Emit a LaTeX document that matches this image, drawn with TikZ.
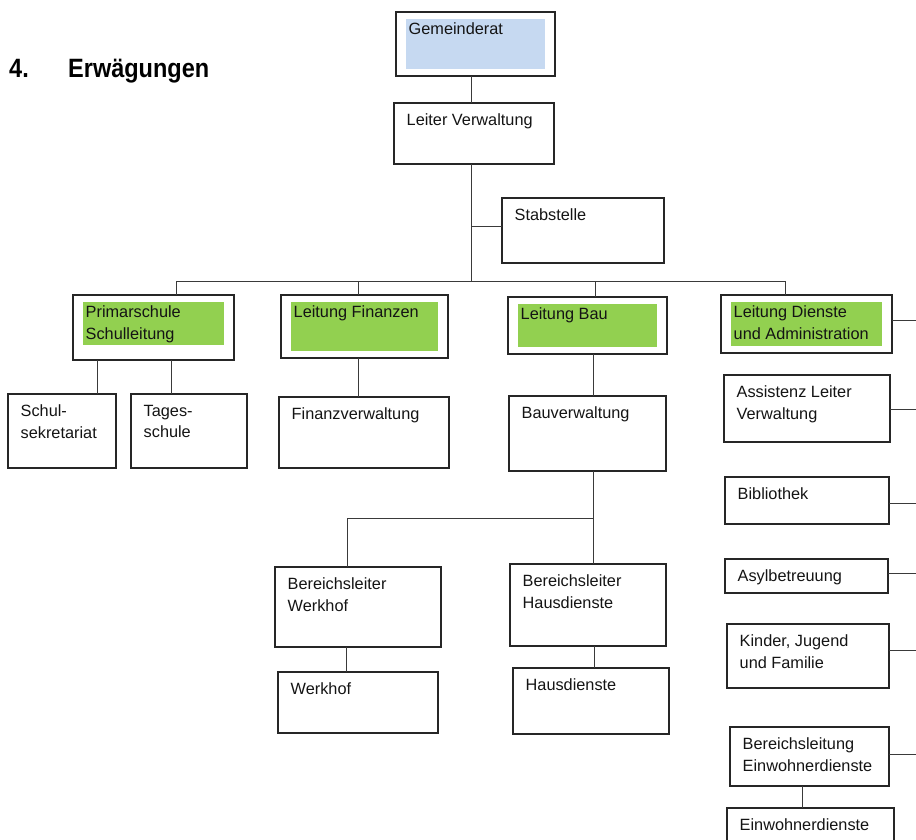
\documentclass[tikz,border=0pt]{standalone}
\usepackage{fontspec}
\usepackage{graphicx}
\usepackage{tikz}
\usetikzlibrary{calc}
\newfontfamily\boxfont{Liberation Sans}
\definecolor{hlgreen}{HTML}{92D050}
\definecolor{hlblue}{HTML}{C6D9F1}
\definecolor{boxline}{HTML}{262626}
\definecolor{wirecol}{HTML}{3A3A3A}
\tikzset{
    box/.style 2 args={draw=boxline, line width=1.2pt, anchor=north west, inner sep=0pt, outer sep=0pt, minimum width=#1pt, minimum height=#2pt},
    hl/.style 2 args={path picture={\fill[#1] ([shift={(10,7)}]path picture bounding box.north west) rectangle ([shift={(-10,-#2)}]path picture bounding box.south east);}},
    boxtext/.style={anchor=north west, inner sep=0pt, xshift=12.5pt, yshift=-10.8pt, align=left, text=black!92, font=\boxfont\fontsize{16.3}{21.5}\selectfont},
    headtext/.style={anchor=base west, inner sep=0pt, font=\boxfont\bfseries\fontsize{26.5}{30}\selectfont},
    wire/.style={draw=wirecol, line width=1pt}
}

\begin{document}
\begin{tikzpicture}[x=1pt, y=-1pt]
            \useasboundingbox (0,0) rectangle (916,839);
            \clip (0,0) rectangle (916,839);

            % heading
            \node[headtext] (num) at (9,77) {\scalebox{0.887}[1]{4.}};
            \node[headtext] (title) at (68,77) {\scalebox{0.887}[1]{Erwägungen}};

            % council, head of administration, staff
            \node[box={159}{64}, hl={hlblue}{7}, label={[boxtext]north west:Gemeinderat}] (gr) at (396,12) {};
            \node[box={160}{61}, label={[boxtext]north west:Leiter Verwaltung}] (lv) at (394,103) {};
            \node[box={162}{65}, label={[boxtext]north west:Stabstelle}] (stab) at (502,198) {};

            \coordinate (trunk) at (471,281);
            \coordinate (sj) at (471,226);
            \coordinate (busl) at (176,281);
            \coordinate (busr) at (785,281);
            \coordinate (rail) at (916,0);
            \draw[wire] (gr.south -| trunk) -- (lv.north -| trunk);
            \draw[wire] (lv.south -| trunk) -- (trunk);
            \draw[wire] (sj) -- (sj -| stab.west);
            \draw[wire] (busl) -- (busr);

            % departments
            \node[box={161}{65}, hl={hlgreen}{15}, label={[boxtext]north west:Primarschule\\Schulleitung}] (ps) at (73,295) {};
            \node[box={167}{63}, hl={hlgreen}{7}, label={[boxtext]north west:Leitung Finanzen}] (lf) at (281,295) {};
            \node[box={159}{57}, hl={hlgreen}{7}, label={[boxtext]north west:Leitung Bau}] (lb) at (508,297) {};
            \node[box={171}{58}, hl={hlgreen}{7}, label={[boxtext]north west:Leitung Dienste\\und Administration}] (ld) at (721,295) {};
            \draw[wire] (busl) -- (busl |- ps.north);
            \draw[wire] (358,281) -- (lf.north -| 358,281);
            \draw[wire] (595,281) -- (lb.north -| 595,281);
            \draw[wire] (busr) -- (busr |- ld.north);

            % school
            \node[box={108}{74}, label={[boxtext]north west:Schul-\\sekretariat}] (ss) at (8,394) {};
            \node[box={116}{74}, label={[boxtext]north west:Tages-\\schule}] (ts) at (131,394) {};
            \draw[wire] (ps.south -| 97,0) -- (ss.north -| 97,0);
            \draw[wire] (ps.south -| 171,0) -- (ts.north -| 171,0);

            % finance
            \node[box={170}{71}, label={[boxtext]north west:Finanzverwaltung}] (fv) at (279,397) {};
            \draw[wire] (lf.south -| 358.5,0) -- (fv.north -| 358.5,0);

            % building
            \node[box={157}{75}, label={[boxtext]north west:Bauverwaltung}] (bv) at (509,396) {};
            \node[box={166}{80}, label={[boxtext]north west:Bereichsleiter\\Werkhof}] (bw) at (275,567) {};
            \node[box={156}{82}, label={[boxtext]north west:Bereichsleiter\\Hausdienste}] (bh) at (510,564) {};
            \node[box={160}{61}, label={[boxtext]north west:Werkhof}] (wh) at (278,672) {};
            \node[box={156}{66}, label={[boxtext]north west:Hausdienste}] (hd) at (513,668) {};
            \coordinate (bj) at (593.5,518);
            \draw[wire] (lb.south -| 593,0) -- (bv.north -| 593,0);
            \draw[wire] (bv.south -| bj) -- (bh.north -| bj);
            \draw[wire] (bj) -- (347.5,518) -- (bw.north -| 347.5,0);
            \draw[wire] (bw.south -| 346.5,0) -- (wh.north -| 346.5,0);
            \draw[wire] (bh.south -| 594,0) -- (hd.north -| 594,0);

            % services and administration
            \node[box={166}{67}, label={[boxtext]north west:Assistenz Leiter\\Verwaltung}] (as) at (724,375) {};
            \node[box={164}{47}, label={[boxtext]north west:Bibliothek}] (bib) at (725,477) {};
            \node[box={163}{34}, label={[boxtext]north west:Asylbetreuung}] (asyl) at (725,559) {};
            \node[box={162}{64}, label={[boxtext]north west:Kinder, Jugend\\und Familie}] (kjf) at (727,624) {};
            \node[box={159}{59}, label={[boxtext]north west:Bereichsleitung\\Einwohnerdienste}] (ble) at (730,727) {};
            \node[box={167}{60}, label={[boxtext]north west:Einwohnerdienste}] (ewd) at (727,808) {};
            \draw[wire] (ld.east |- 0,320) -- (rail |- 0,320);
            \draw[wire] (as.east |- 0,409.5) -- (rail |- 0,409.5);
            \draw[wire] (bib.east |- 0,503.5) -- (rail |- 0,503.5);
            \draw[wire] (asyl.east |- 0,573.5) -- (rail |- 0,573.5);
            \draw[wire] (kjf.east |- 0,650) -- (rail |- 0,650);
            \draw[wire] (ble.east |- 0,754) -- (rail |- 0,754);
            \draw[wire] (ble.south -| 802,0) -- (ewd.north -| 802,0);
        \end{tikzpicture}
\end{document}
